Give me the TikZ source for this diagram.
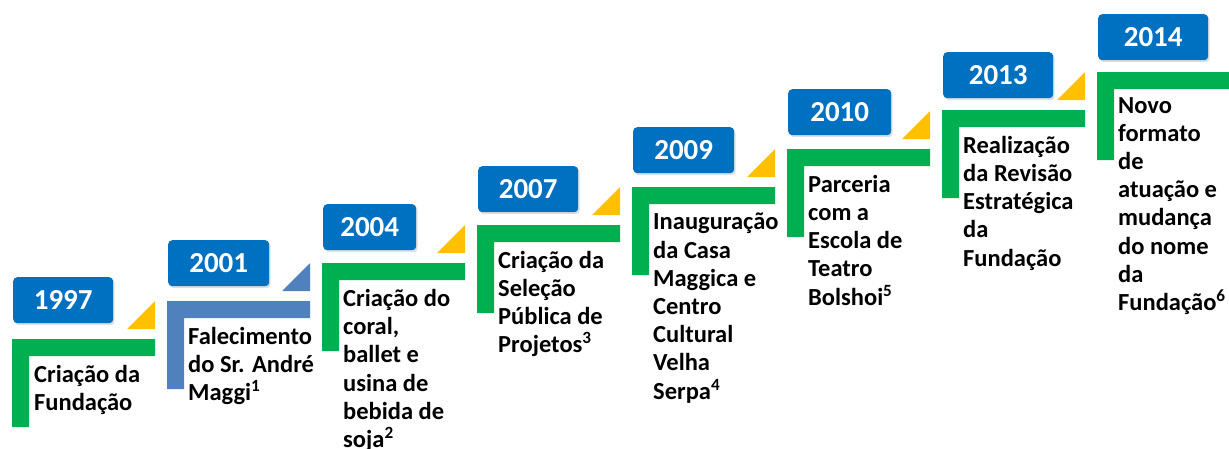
\documentclass[tikz,border=0pt]{standalone}
\usepackage{fontspec}
\setmainfont{Carlito}
\usetikzlibrary{shadows}
\definecolor{azul}{HTML}{0070C0}
\definecolor{verde}{HTML}{00B050}
\definecolor{amarelo}{HTML}{FFC000}
\definecolor{cinza}{HTML}{4F81BD}
\tikzset{ano/.style = {anchor=north west, rounded corners=4pt, fill=azul, text=white, inner sep=0pt,
                       minimum height=46pt, font=\fontsize{29}{32}\selectfont\bfseries,
                       drop shadow={shadow xshift=1.5pt, shadow yshift=-2pt, opacity=0.25}},
         txt/.style = {anchor=north west, align=left, inner sep=0pt, font=\fontsize{24.5}{28.2}\selectfont\bfseries},
         tri/.style = {fill=amarelo, rounded corners=0.5pt}}

\begin{document}
\begin{tikzpicture}[x=1pt, y=-1pt]
    \useasboundingbox (0,0) rectangle (1229,448);
    \fill[verde] (12,339) -- ++(143,0) -- ++(0,17) -- ++(-126,0) -- ++(0,71) -- ++(-17,0) -- cycle;
    \fill[cinza] (167,301) -- ++(143,0) -- ++(0,17) -- ++(-126,0) -- ++(0,71) -- ++(-17,0) -- cycle;
    \fill[verde] (322,263) -- ++(143,0) -- ++(0,17) -- ++(-126,0) -- ++(0,71) -- ++(-17,0) -- cycle;
    \fill[verde] (477,225) -- ++(143,0) -- ++(0,17) -- ++(-126,0) -- ++(0,71) -- ++(-17,0) -- cycle;
    \fill[verde] (632,187) -- ++(143,0) -- ++(0,17) -- ++(-126,0) -- ++(0,71) -- ++(-17,0) -- cycle;
    \fill[verde] (787,149) -- ++(143,0) -- ++(0,17) -- ++(-126,0) -- ++(0,71) -- ++(-17,0) -- cycle;
    \fill[verde] (942,110) -- ++(143,0) -- ++(0,17) -- ++(-126,0) -- ++(0,71) -- ++(-17,0) -- cycle;
    \fill[verde] (1097,72) -- ++(143,0) -- ++(0,17) -- ++(-126,0) -- ++(0,71) -- ++(-17,0) -- cycle;
    \fill[tri] (155,329) -- ++(0,-28) -- ++(-28,28) -- cycle;
    \fill[tri, fill=cinza] (310,291) -- ++(0,-28) -- ++(-28,28) -- cycle;
    \fill[tri] (465,253) -- ++(0,-28) -- ++(-28,28) -- cycle;
    \fill[tri] (620,215) -- ++(0,-28) -- ++(-28,28) -- cycle;
    \fill[tri] (775,177) -- ++(0,-28) -- ++(-28,28) -- cycle;
    \fill[tri] (930,139) -- ++(0,-28) -- ++(-28,28) -- cycle;
    \fill[tri] (1085,100) -- ++(0,-28) -- ++(-28,28) -- cycle;
    \node[ano, minimum width=100pt] (a1997) at (13,277) {1997};
    \node[ano, minimum width=101pt] (a2001) at (168,240) {2001};
    \node[ano, minimum width=93pt]  (a2004) at (323,204) {2004};
    \node[ano, minimum width=100pt] (a2007) at (478,166) {2007};
    \node[ano, minimum width=101pt] (a2009) at (633,127) {2009};
    \node[ano, minimum width=103pt] (a2010) at (788,89)  {2010};
    \node[ano, minimum width=110pt] (a2013) at (943,52)  {2013};
    \node[ano, minimum width=110pt] (a2014) at (1098,14) {2014};
    \node[txt] (t1997) at (34,365)  {Criação da\\Fundação};
    \node[txt] (t2001) at (188,327) {Falecimento\\do Sr. André\\Maggi\textsuperscript{1}};
    \node[txt] (t2004) at (343,289) {Criação do\\coral,\\ballet e\\usina de\\bebida de\\soja\textsuperscript{2}};
    \node[txt] (t2007) at (498,251) {Criação da\\Seleção\\Pública de\\Projetos\textsuperscript{3}};
    \node[txt] (t2009) at (653,213) {Inauguração\\da Casa\\Maggica e\\Centro\\Cultural\\Velha\\Serpa\textsuperscript{4}};
    \node[txt] (t2010) at (808,175) {Parceria\\com a\\Escola de\\Teatro\\Bolshoi\textsuperscript{5}};
    \node[txt] (t2013) at (963,136) {Realização\\da Revisão\\Estratégica\\da\\Fundação};
    \node[txt] (t2014) at (1118,97) {Novo\\formato\\de\\atuação e\\mudança\\do nome\\da\\Fundação\textsuperscript{6}};
\end{tikzpicture}
\end{document}
